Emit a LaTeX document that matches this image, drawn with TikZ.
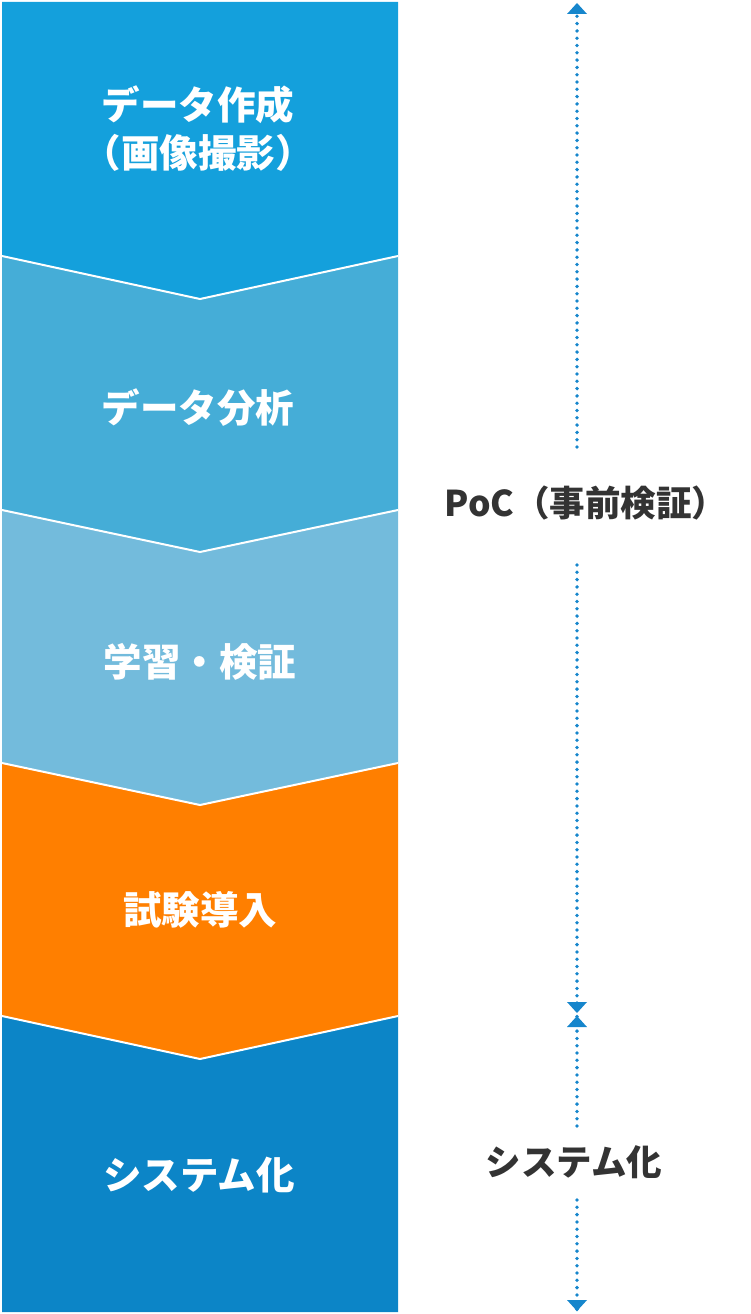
\documentclass[tikz,border=0pt]{standalone}
\usepackage{fontspec}
\setmainfont{Noto Sans CJK JP}
\usetikzlibrary{arrows.meta}
\definecolor{cA}{RGB}{20,160,220}
\definecolor{cB}{RGB}{69,173,215}
\definecolor{cC}{RGB}{115,187,220}
\definecolor{cD}{RGB}{255,127,0}
\definecolor{cE}{RGB}{12,133,199}
\definecolor{arr}{RGB}{22,134,204}
\definecolor{txt}{RGB}{51,51,51}
\tikzset{
  blocklabel/.style={text=white,font=\fontsize{38.5}{48}\selectfont\bfseries,align=center,inner sep=0pt},
  sidelabel/.style={text=txt,font=\fontsize{35.5}{40}\selectfont\bfseries,inner sep=0pt},
  dotline/.style={draw=arr,line width=3.8pt,line cap=round,dash pattern=on 0pt off 7.3pt},
  sep/.style={draw=white,line width=2pt}
}
\begin{document}
\begin{tikzpicture}[x=1pt,y=-1pt]
\useasboundingbox (0,0) rectangle (750,1314);
% blocks
\fill[cA] (2,2) -- (398,2) -- (398,256) -- (200,299) -- (2,256) -- cycle;
\fill[cB] (2,256) -- (200,299) -- (398,256) -- (398,510) -- (200,552) -- (2,510) -- cycle;
\fill[cC] (2,510) -- (200,552) -- (398,510) -- (398,763) -- (200,805) -- (2,763) -- cycle;
\fill[cD] (2,763) -- (200,805) -- (398,763) -- (398,1016) -- (200,1059) -- (2,1016) -- cycle;
\fill[cE] (2,1016) -- (200,1059) -- (398,1016) -- (398,1312) -- (2,1312) -- cycle;
\draw[sep] (2,256) -- (200,299) -- (398,256);
\draw[sep] (2,510) -- (200,552) -- (398,510);
\draw[sep] (2,763) -- (200,805) -- (398,763);
\draw[sep] (2,1016) -- (200,1059) -- (398,1016);
% labels
\node[blocklabel] (s1) at (198,129) {データ作成\\（画像撮影）};
\node[blocklabel] (s2) at (198,408) {データ分析};
\node[blocklabel] (s3) at (200,662) {学習・検証};
\node[blocklabel] (s4) at (200,910) {試験導入};
\node[blocklabel] (s5) at (199,1175) {システム化};
\node[sidelabel] (poc) at (586,503) {PoC（事前検証）};
\node[sidelabel] (sys) at (574,1162) {システム化};
% connectors
\coordinate (pTop) at (577,3);
\coordinate (pA) at (577,447);
\coordinate (pB) at (577,565);
\coordinate (pMid1) at (577,1013);
\coordinate (pMid2) at (577,1016);
\coordinate (pC) at (577,1126);
\coordinate (pD) at (577,1200);
\coordinate (pBot) at (577,1311);
\draw[dotline] (pA) -- (pTop);
\draw[dotline] (pB) -- (pMid1);
\draw[dotline] (pC) -- (pMid2);
\draw[dotline] (pD) -- (pBot);
\fill[arr] (pTop) -- ++(-10,11) -- ++(20,0) -- cycle;
\fill[arr] (pMid1) -- ++(-10,-11) -- ++(20,0) -- cycle;
\fill[arr] (pMid2) -- ++(-10,11) -- ++(20,0) -- cycle;
\fill[arr] (pBot) -- ++(-10,-11) -- ++(20,0) -- cycle;
\end{tikzpicture}
\end{document}
